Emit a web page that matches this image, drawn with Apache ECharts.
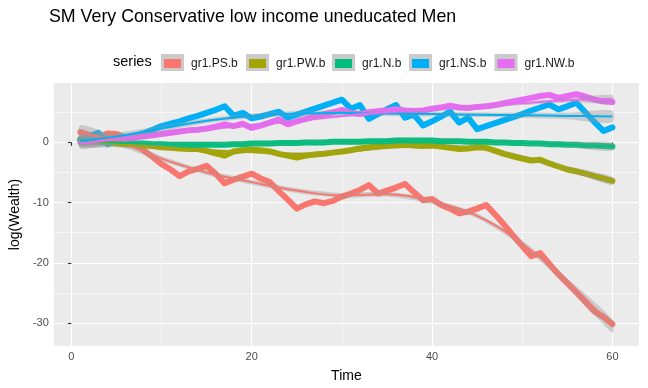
<!DOCTYPE html>
<html>
<head>
<meta charset="utf-8">
<script src="https://cdn.jsdelivr.net/npm/echarts@6/dist/echarts.min.js"></script>
<style>
  html, body { margin: 0; padding: 0; background: #ffffff; }
  #chart { width: 648px; height: 388px; }
</style>
</head>
<body>
<div id="chart"></div>
<script>
// Time steps
const time = [
  1, 2, 3, 4, 5, 6, 7, 8, 9, 10,
  11, 12, 13, 14, 15, 16, 17, 18, 19, 20,
  21, 22, 23, 24, 25, 26, 27, 28, 29, 30,
  31, 32, 33, 34, 35, 36, 37, 38, 39, 40,
  41, 42, 43, 44, 45, 46, 47, 48, 49, 50,
  51, 52, 53, 54, 55, 56, 57, 58, 59, 60
];

const seriesNames = ['gr1.PS.b', 'gr1.PW.b', 'gr1.N.b', 'gr1.NS.b', 'gr1.NW.b'];

// log(Wealth) per series
const PS = [
  1.7, 1.2, 0.8, 1.5, 1.4, 0.8, -0.2, -1.3, -2.4, -3.6,
  -4.5, -5.6, -4.8, -4.4, -3.9, -5.2, -6.8, -6.2, -5.7, -5.2,
  -6.0, -6.6, -8.1, -9.5, -11.0, -10.3, -9.8, -10.1, -9.7, -9.0,
  -8.5, -7.9, -7.1, -8.5, -8.0, -7.5, -6.9, -8.3, -9.6, -9.4,
  -10.4, -11.0, -11.8, -11.5, -11.0, -10.4, -12.0, -13.7, -15.5, -17.2,
  -18.9, -18.4, -20.2, -21.9, -23.4, -24.9, -26.5, -28.1, -29.0, -30.2
];
const PW = [
  0.6, 0.4, 0.2, 0.0, -0.2, -0.3, -0.4, -0.5, -0.6, -0.8,
  -0.9, -1.0, -1.1, -1.1, -1.4, -1.8, -2.2, -1.5, -1.3, -1.2,
  -1.3, -1.5, -1.9, -2.2, -2.5, -2.2, -2.0, -1.9, -1.7, -1.5,
  -1.3, -1.0, -0.8, -0.7, -0.5, -0.4, -0.4, -0.5, -0.6, -0.5,
  -0.7, -0.9, -1.1, -1.0, -0.8, -0.9, -1.4, -1.9, -2.3, -2.7,
  -3.0, -2.9, -3.5, -4.0, -4.5, -4.8, -5.2, -5.6, -6.0, -6.4
];
const N = [
  0.3, 0.2, 0.1, 0.0, 0.0, -0.1, -0.2, -0.2, -0.3, -0.3,
  -0.4, -0.4, -0.4, -0.4, -0.4, -0.4, -0.4, -0.3, -0.3, -0.2,
  -0.2, -0.2, -0.1, -0.1, -0.1, 0.0, 0.0, 0.0, 0.1, 0.1,
  0.1, 0.1, 0.2, 0.2, 0.2, 0.3, 0.3, 0.3, 0.3, 0.3,
  0.2, 0.2, 0.2, 0.1, 0.1, 0.1, 0.0, 0.0, -0.1, -0.1,
  -0.2, -0.2, -0.3, -0.3, -0.4, -0.4, -0.5, -0.5, -0.6, -0.7
];
const NS = [
  0.4, 1.0, 1.6, -0.3, 0.1, 0.6, 1.0, 1.5, 2.1, 2.7,
  3.1, 3.5, 4.0, 4.4, 4.9, 5.4, 6.0, 4.4, 4.9, 4.0,
  4.3, 4.7, 5.1, 4.1, 4.6, 5.1, 5.6, 6.1, 6.6, 7.1,
  5.6, 6.2, 3.9, 4.7, 5.5, 6.2, 4.1, 4.6, 2.8, 3.5,
  4.3, 5.1, 3.3, 4.1, 2.2, 2.7, 3.2, 3.7, 4.2, 4.7,
  5.3, 5.8, 6.3, 5.5, 6.0, 6.6, 5.0, 3.4, 1.9, 2.5
];
const NW = [
  0.0, 0.1, 0.2, 0.3, 0.4, 0.6, 0.8, 1.0, 1.2, 1.4,
  1.6, 1.8, 2.0, 2.1, 2.3, 2.6, 3.0, 2.7, 3.1, 2.4,
  2.8, 3.3, 3.8, 3.0, 3.5, 3.9, 4.3, 4.7, 5.0, 5.4,
  4.9, 4.7, 5.0, 5.2, 5.3, 5.5, 5.3, 5.2, 5.3, 5.6,
  5.8, 6.1, 5.8, 5.7, 5.9, 6.0, 6.2, 6.5, 6.8, 7.1,
  7.4, 7.7, 7.9, 7.4, 7.7, 8.0, 7.6, 7.1, 6.8, 6.7
];

// Loess trend per series, sampled at these times
const fitTime = [1, 5, 10, 15, 20, 25, 30, 35, 40, 45, 50, 55, 60];
const PS_fit = [1.6, 0.2, -2.7, -5.0, -6.6, -8.0, -8.8, -8.6, -9.8, -12.2, -16.8, -23.2, -30.5];
const PW_fit = [0.4, -0.3, -0.8, -1.3, -1.6, -1.9, -1.6, -0.9, -0.6, -0.9, -2.4, -4.3, -6.4];
const N_fit = [0.2, 0.0, -0.3, -0.4, -0.2, -0.1, 0.1, 0.2, 0.3, 0.1, -0.1, -0.4, -0.7];
const NS_fit = [0.3, 1.0, 2.3, 3.6, 4.4, 4.8, 4.9, 4.8, 4.7, 4.6, 4.5, 4.4, 4.3];
const NW_fit = [-0.1, 0.5, 1.4, 2.2, 2.9, 3.6, 4.4, 5.0, 5.5, 5.9, 6.5, 7.0, 7.2];

// Half-width of the confidence band around each trend
const PS_band = [1.3, 0.7, 0.45, 0.4, 0.4, 0.4, 0.4, 0.4, 0.4, 0.4, 0.5, 0.6, 1.1];
const PW_band = [1.0, 0.5, 0.3, 0.25, 0.25, 0.25, 0.25, 0.25, 0.25, 0.25, 0.3, 0.35, 0.7];
const N_band = [1.0, 0.5, 0.3, 0.25, 0.25, 0.25, 0.25, 0.25, 0.25, 0.25, 0.3, 0.35, 0.7];
const NS_band = [1.1, 0.6, 0.45, 0.4, 0.4, 0.4, 0.4, 0.4, 0.4, 0.4, 0.45, 0.55, 1.0];
const NW_band = [1.0, 0.5, 0.3, 0.25, 0.25, 0.25, 0.25, 0.25, 0.25, 0.25, 0.3, 0.35, 0.7];

// Axis ticks
const xTicks = [0, 20, 40, 60];
const xMinorTicks = [10, 30, 50];
const yTicks = [-30, -20, -10, 0];
const yMinorTicks = [-25, -15, -5, 5];

const palette = ['#F8766D', '#A3A500', '#00BF7D', '#00B0F6', '#E76BF3'];
const values = [PS, PW, N, NS, NW];
const fits = [PS_fit, PW_fit, N_fit, NS_fit, NW_fit];
const bands = [PS_band, PW_band, N_band, NS_band, NW_band];

const FONT = 'Liberation Sans, Arial, Helvetica, sans-serif';
const pairs = (xs, ys) => xs.map((x, i) => [x, ys[i]]);

const series = [];

// raw paths
seriesNames.forEach((name, i) => {
  series.push({
    name: name,
    type: 'line',
    data: pairs(time, values[i]),
    showSymbol: false,
    symbol: 'none',
    color: palette[i],
    lineStyle: { width: 6, color: palette[i], join: 'round', cap: 'round' },
    z: 3,
    silent: true
  });
});

// trend band (one polygon per series, built from the fit and half-width arrays)
seriesNames.forEach((name, i) => {
  const fit = fits[i];
  const band = bands[i];
  series.push({
    name: name + ' band',
    type: 'custom',
    data: fitTime.map((t, k) => [t, fit[k] - band[k], fit[k] + band[k]]),
    encode: { x: 0, y: [1, 2] },
    clip: true,
    silent: true,
    z: 4,
    renderItem: function (params, api) {
      if (params.dataIndex !== 0) return null;
      const upper = fitTime.map((t, k) => api.coord([t, fit[k] + band[k]]));
      const lower = fitTime.map((t, k) => api.coord([t, fit[k] - band[k]])).reverse();
      return {
        type: 'polygon',
        shape: { points: upper.concat(lower), smooth: 0.25 },
        style: { fill: 'rgba(153,153,153,0.4)' }
      };
    }
  });
  series.push({
    name: name + ' trend',
    type: 'line',
    data: pairs(fitTime, fit),
    smooth: 0.4,
    symbol: 'none',
    lineStyle: { width: 2, color: palette[i] },
    z: 5,
    silent: true
  });
});

// legend key positions (left edge of each grey key)
const keyLeft = [161, 246, 332, 409, 494.5];
const legends = seriesNames.map((name, i) => ({
  data: [name],
  left: keyLeft[i] + 3,
  top: 57.5,
  padding: 0,
  icon: 'rect',
  itemWidth: 17,
  itemHeight: 9,
  selectedMode: false,
  z: 10,
  textStyle: { fontFamily: FONT, fontSize: 12, color: '#1A1A1A', padding: [0, 0, 0, 5] }
}));

const graphics = [
  {
    type: 'text',
    left: 113,
    top: 54,
    style: { text: 'series', fontFamily: FONT, fontSize: 14.5, fill: '#000000' }
  }
];
keyLeft.forEach(x => {
  graphics.push({
    type: 'rect',
    shape: { x: x, y: 54, width: 23, height: 17 },
    style: { fill: '#CACACA' },
    z: 1
  });
});

const chart = echarts.init(document.getElementById('chart'), null, { renderer: 'canvas' });
chart.setOption({
  animation: false,
  backgroundColor: '#ffffff',
  title: {
    text: 'SM Very Conservative low income uneducated Men',
    left: 49,
    top: 8,
    padding: 0,
    textStyle: { fontFamily: FONT, fontSize: 17.8, fontWeight: 'normal', color: '#000000' }
  },
  legend: legends,
  graphic: graphics,
  grid: {
    left: 51, right: 9, top: 83, bottom: 39,
    show: true, backgroundColor: '#EBEBEB', borderWidth: 0
  },
  xAxis: [
    {
      type: 'value',
      min: -1.95,
      max: 62.95,
      name: 'Time',
      nameLocation: 'middle',
      nameGap: 23,
      nameTextStyle: { fontFamily: FONT, fontSize: 14, color: '#000000' },
      axisLine: { show: false },
      axisTick: { show: true, customValues: xTicks, length: 3.5, lineStyle: { color: '#333333', width: 1.1 } },
      axisLabel: { customValues: xTicks, fontFamily: FONT, fontSize: 11, color: '#4D4D4D', margin: 5 },
      splitLine: { show: true, lineStyle: { color: '#FFFFFF', width: 1.1 } }
    },
    {
      type: 'value',
      min: -1.95,
      max: 62.95,
      position: 'bottom',
      axisLine: { show: false },
      axisTick: { show: false, customValues: xMinorTicks },
      axisLabel: { show: false, customValues: xMinorTicks },
      splitLine: { show: true, lineStyle: { color: '#FFFFFF', width: 0.55 } }
    }
  ],
  yAxis: [
    {
      type: 'value',
      min: -33.83,
      max: 9.87,
      name: 'log(Wealth)',
      nameLocation: 'middle',
      nameGap: 30,
      nameTextStyle: { fontFamily: FONT, fontSize: 14, color: '#000000' },
      axisLine: { show: false },
      axisTick: { show: true, customValues: yTicks, length: 3.5, lineStyle: { color: '#333333', width: 1.1 } },
      axisLabel: { customValues: yTicks, fontFamily: FONT, fontSize: 11, color: '#4D4D4D', margin: 5 },
      splitLine: { show: true, lineStyle: { color: '#FFFFFF', width: 1.1 } }
    },
    {
      type: 'value',
      min: -33.83,
      max: 9.87,
      position: 'left',
      axisLine: { show: false },
      axisTick: { show: false, customValues: yMinorTicks },
      axisLabel: { show: false, customValues: yMinorTicks },
      splitLine: { show: true, lineStyle: { color: '#FFFFFF', width: 0.55 } }
    }
  ],
  series: series
});
</script>
</body>
</html>
